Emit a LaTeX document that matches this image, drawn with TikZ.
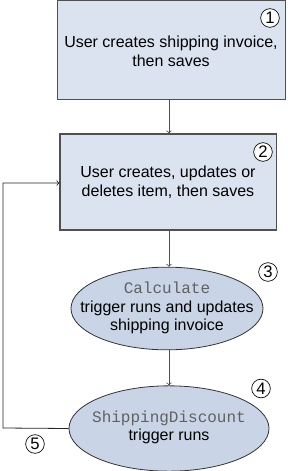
\documentclass[tikz,border=0pt]{standalone}
\usepackage{fontspec}
\setmainfont{Liberation Sans}
\setmonofont{Liberation Mono}
\usetikzlibrary{shapes.geometric}
\definecolor{boxfill}{HTML}{DCE3F0}
\definecolor{ovalfill}{HTML}{C9D5E7}
\definecolor{linegray}{HTML}{505050}
\tikzset{
  stepbox/.style={draw=linegray, fill=boxfill, line width=0.9pt},
  oval/.style={ellipse, draw=black!80, fill=ovalfill, line width=0.6pt, inner sep=0pt},
  numcirc/.style={circle, draw=black, fill=white, line width=0.5pt, minimum size=14pt, inner sep=0pt, font=\fontsize{12.5}{12}\selectfont},
  flow/.style={->, >=to, draw=linegray, line width=0.6pt},
}
\begin{document}
\begin{tikzpicture}[x=0.75pt, y=-0.75pt, font=\fontsize{12}{14}\selectfont]
  \useasboundingbox (0,0) rectangle (287,471);
  % Boites
  \node[stepbox, minimum width=171pt, minimum height=74pt] (create) at (171.5,50.2) {};
  \node[stepbox, minimum width=162.5pt, minimum height=72pt] (item) at (168.3,182) {};
  \node[align=center] at (171,51) {User creates shipping invoice,\\then saves};
  \node[align=center] at (168,182.5) {User creates, updates or\\deletes item, then saves};
  % Ellipses
  \node[oval, minimum width=144pt, minimum height=62pt] (calc) at (167,308.5) {};
  \node[oval, minimum width=150pt, minimum height=64pt] (discount) at (169,428.5) {};
  \node[align=center] at (167,308) {\texttt{\color{black!62}Calculate}\\trigger runs and updates\\shipping invoice};
  \node[align=center] at (169,427.5) {\texttt{\color{black!62}ShippingDiscount}\\trigger runs};
  % Fleches
  \draw[flow] (create.south -| 169,0) -- (item.north -| 169,0);
  \draw[flow] (item.south -| 169,0) -- (calc.north -| 169,0);
  \draw[flow] (calc.south -| 169,0) -- (discount.north -| 169,0);
  \coordinate (loopA) at (3,428);
  \coordinate (loopB) at (3,183);
  \draw[flow, draw=black!85] (discount.west) -- (loopA) -- (loopB) -- (item.west |- loopB);
  % Numeros
  \node[numcirc] (n1) at (270,18) {1};
  \node[numcirc] (n2) at (263,152) {2};
  \node[numcirc] (n3) at (268,272) {3};
  \node[numcirc] (n4) at (261,388.5) {4};
  \node[numcirc] (n5) at (35,444) {5};
\end{tikzpicture}
\end{document}
